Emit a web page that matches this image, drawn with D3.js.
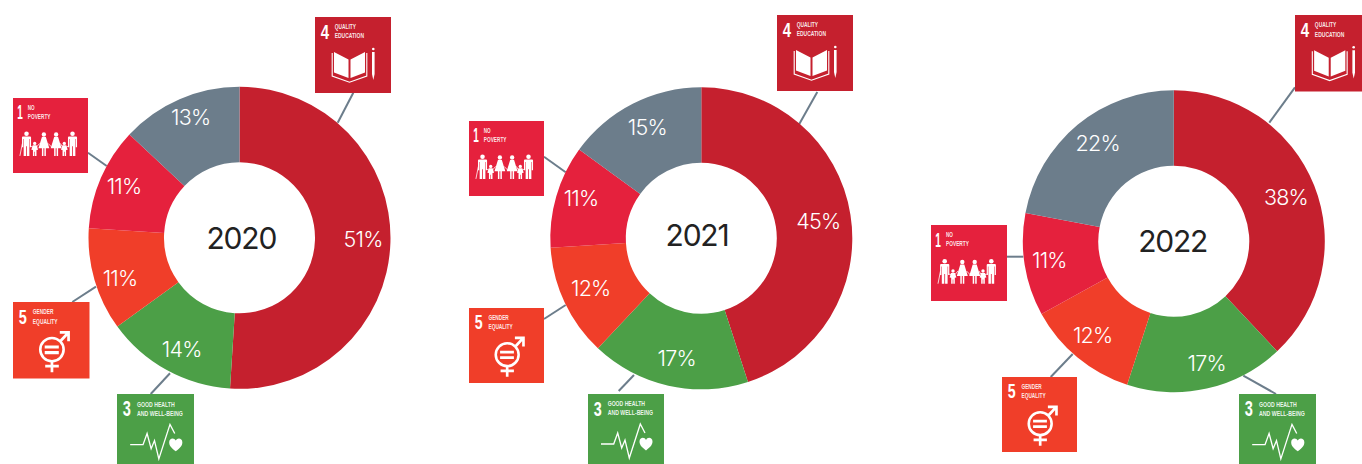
<!DOCTYPE html>
<html>
<head>
<meta charset="utf-8">
<style>
  html, body { margin: 0; padding: 0; background: #fff; overflow: hidden; }
  svg { display: block; }
  text { font-family: Inter, "Liberation Sans", sans-serif; }
  .tile-text { font-family: "Liberation Sans", sans-serif; fill: #fff; }
</style>
<script src="https://cdn.jsdelivr.net/npm/d3@7"></script>
</head>
<body>
<script>
// Share of spending by Sustainable Development Goal, one ring per year.
const years = ["2020", "2021", "2022"];
const goals = ["SDG 4", "SDG 3", "SDG 5", "SDG 1", "Other"];
const share2020 = [51, 14, 11, 11, 13];
const share2021 = [45, 17, 12, 11, 15];
const share2022 = [38, 17, 12, 11, 22];
const sharesByYear = [share2020, share2021, share2022];
const goalColors = ["#C5202E", "#4C9F47", "#F03E29", "#E5213D", "#6C7D8B"];

// Goal badge captions: [number, line 1, line 2]
const badgeCaptions = {
  "SDG 4": ["4", "QUALITY", "EDUCATION"],
  "SDG 3": ["3", "GOOD HEALTH", "AND WELL-BEING"],
  "SDG 5": ["5", "GENDER", "EQUALITY"],
  "SDG 1": ["1", "NO", "POVERTY"]
};
const captionMetrics = {
  "SDG 4": { numX: 5.7, numW: 8.3, textX: 19.7, w1: 21.3, w2: 29.3 },
  "SDG 3": { numX: 5.7, numW: 8, textX: 19.7, w1: 37.3, w2: 45.3 },
  "SDG 5": { numX: 5.7, numW: 8, textX: 19.7, w1: 20.6, w2: 24.6 },
  "SDG 1": { numX: 4.3, numW: 5.6, textX: 15, w1: 7, w2: 23 }
};

// Page layout for each ring: centre, year label anchor, label nudges per slice,
// and per-goal badge box and leader line.
const rings = [
  { cx: 239.5, cy: 237.8, tx: 241.3, ty: 237.7,
    nudge: [[-.4, -3], [1.9, 2.8], [-.4, 5.9], [-1.7, -2.6], [.4, -6.7]],
    badges: {
    "SDG 4": { x: 315, y: 17, size: 76, lead: [353.3, 92.7, 337.7, 122.7] },
    "SDG 1": { x: 13, y: 98, size: 75, lead: [88, 152.7, 106.7, 166] },
    "SDG 5": { x: 13, y: 302, size: 76.5, lead: [72.3, 302, 96, 286.7] },
    "SDG 3": { x: 117, y: 394, size: 77, lead: [150.7, 394, 170, 373.3] } } },
  { cx: 701.3, cy: 238.3, tx: 697, ty: 235,
    nudge: [[-5.5, 1.8], [2.4, -1], [1.6, -2.8], [-1.2, -5.4], [2.3, -1.1]],
    badges: {
    "SDG 4": { x: 777, y: 15, size: 76, lead: [817.3, 92, 799.3, 124] },
    "SDG 1": { x: 469, y: 121, size: 75, lead: [544, 156.7, 565.7, 172.3] },
    "SDG 5": { x: 469, y: 308, size: 75, lead: [544, 319, 565.7, 305] },
    "SDG 3": { x: 588, y: 394, size: 76, lead: [618.7, 391, 634, 375] } } },
  { cx: 1173.8, cy: 241.2, tx: 1172.7, ty: 240.7,
    nudge: [[-3.1, 1.1], [5.9, 1.1], [-2.1, -1.4], [-2, -.6], [2.9, -2.4]],
    badges: {
    "SDG 4": { x: 1295, y: 15, size: 76.5, lead: [1295, 87.3, 1269.3, 122.7] },
    "SDG 1": { x: 931, y: 225, size: 76, lead: [1007, 256.7, 1023.3, 256.7] },
    "SDG 5": { x: 1002, y: 377, size: 75, lead: [1050.7, 377, 1072.7, 354] },
    "SDG 3": { x: 1239, y: 394, size: 77, lead: [1243.3, 375.7, 1276, 394] } } }
];

const outerRadius = 151, innerRadius = 75.5, labelRadius = 124;

const svg = d3.select("body").append("svg").attr("width", 1362).attr("height", 464);
const color = d3.scaleOrdinal().domain(goals).range(goalColors);
const pie = d3.pie().value(d => d.value).sort(null);
const arc = d3.arc().innerRadius(innerRadius).outerRadius(outerRadius);
const labelArc = d3.arc().innerRadius(labelRadius).outerRadius(labelRadius);

// White pictograms, drawn in a 76-unit square badge.
const icons = {
  "SDG 4"(g) {
    g.append("path").attr("fill", "#fff")
      .attr("d", "M19 35L33.5 42.5V61L19 55.5ZM50 35L35.5 42.5V61L50 55.5Z");
    g.append("path").attr("fill", "none").attr("stroke", "#fff").attr("stroke-width", 1.1)
      .attr("d", "M17.2 36V59L34.5 65.2L51.8 59V36");
    g.append("circle").attr("cx", 58.3).attr("cy", 32).attr("r", 1.3).attr("fill", "#fff");
    g.append("path").attr("fill", "#fff").attr("d", "M57 35H59.6V57L58.3 63L57 57Z");
  },
  "SDG 1"(g) {
    const man = cx => `M${cx - 4.6} 40Q${cx - 4.6} 39 ${cx - 3.6} 39H${cx + 3.6}Q${cx + 4.6} 39 ${cx + 4.6} 40V50H${cx + 3.4}V41.5H${cx + 2.9}V58.7H${cx + .4}V49H${cx - .4}V58.7H${cx - 2.9}V41.5H${cx - 3.4}V50H${cx - 4.6}Z`;
    const woman = cx => `M${cx - 2} 39.5H${cx + 2}L${cx + 5.5} 51H${cx + 2}V58.7H${cx + .5}V51H${cx - .5}V58.7H${cx - 2}V51H${cx - 5.5}Z`;
    const child = cx => `M${cx - 2} 48H${cx + 2}L${cx + 3.4} 52.5L${cx + 1.8} 52.8V58.7H${cx + .3}V54.5H${cx - .3}V58.7H${cx - 1.8}V52.8L${cx - 3.4} 52.5Z`;
    [13.7, 60.3].forEach(cx => {
      g.append("circle").attr("cx", cx).attr("cy", 36.3).attr("r", 2.3).attr("fill", "#fff");
      g.append("path").attr("fill", "#fff").attr("d", man(cx));
    });
    [31.3, 43.7].forEach(cx => {
      g.append("circle").attr("cx", cx).attr("cy", 37).attr("r", 2.2).attr("fill", "#fff");
      g.append("path").attr("fill", "#fff").attr("d", woman(cx));
    });
    [22, 52].forEach(cx => {
      g.append("circle").attr("cx", cx).attr("cy", 46).attr("r", 1.7).attr("fill", "#fff");
      g.append("path").attr("fill", "#fff").attr("d", child(cx));
    });
    g.append("path").attr("fill", "none").attr("stroke", "#fff").attr("stroke-width", .8)
      .attr("d", "M9.5 46L7 58.7M17.5 49L20 49.5M24 49.5L27 46M35.5 46L39.5 50M48 46L50 49.5M54 49.5L56.5 49");
  },
  "SDG 5"(g) {
    g.append("circle").attr("cx", 38.7).attr("cy", 47.3).attr("r", 11.6)
      .attr("fill", "none").attr("stroke", "#fff").attr("stroke-width", 2.6);
    g.append("path").attr("fill", "#fff")
      .attr("d", "M31.5 43.2H45.5V46.2H31.5ZM31.5 48.8H45.5V51.8H31.5Z");
    g.append("path").attr("fill", "none").attr("stroke", "#fff").attr("stroke-width", 2.7)
      .attr("d", "M38.7 58.5V69.7M32 63.7H45.5M47 39L54.6 30.8M46.5 30.2H55.2V39");
  },
  "SDG 3"(g) {
    g.append("path").attr("fill", "none").attr("stroke", "#fff").attr("stroke-width", 1.3)
      .attr("d", "M13 50H25.7L29.7 39L33.7 54L37 46L41.3 64L52.3 30L57 39");
    g.append("path").attr("fill", "#fff")
      .attr("d", "M58 56.5C53 52.5 51.5 50.5 51.5 47.5C51.5 43.5 56.5 42.5 58 46C59.5 42.5 64.5 43.5 64.5 47.5C64.5 50.5 63 52.5 58 56.5Z");
  }
};

rings.forEach((ring, i) => {
  const rows = goals.map((goal, k) => ({ goal, value: sharesByYear[i][k] }));
  const root = svg.append("g").attr("class", "ring");

  // Leader lines sit behind the ring and the badges.
  root.selectAll("line.leader").data(Object.values(ring.badges)).join("line")
    .attr("class", "leader")
    .attr("x1", d => d.lead[0]).attr("y1", d => d.lead[1])
    .attr("x2", d => d.lead[2]).attr("y2", d => d.lead[3])
    .attr("stroke", "#6C7D8B").attr("stroke-width", 2);

  const donut = root.append("g").attr("transform", `translate(${ring.cx},${ring.cy})`);
  const slices = pie(rows);
  donut.selectAll("path").data(slices).join("path")
    .attr("d", arc).attr("fill", d => color(d.data.goal));
  donut.selectAll("text").data(slices).join("text")
    .attr("transform", (d, k) => {
      const [x, y] = labelArc.centroid(d);
      return `translate(${x + ring.nudge[k][0]},${y + ring.nudge[k][1]})`;
    })
    .attr("text-anchor", "middle").attr("dominant-baseline", "central")
    .attr("fill", "#fff").attr("font-size", 21.5).attr("font-weight", 350).attr("letter-spacing", -0.8)
    .text(d => `${d.data.value}%`);

  root.append("text").attr("x", ring.tx).attr("y", ring.ty)
    .attr("text-anchor", "middle").attr("dominant-baseline", "central")
    .attr("fill", "#222").attr("font-size", 30).attr("letter-spacing", -1.2)
    .text(years[i]);

  // Goal badges with number, caption and pictogram.
  Object.entries(ring.badges).forEach(([goal, box]) => {
    const g = root.append("g").attr("transform", `translate(${box.x},${box.y}) scale(${box.size / 76})`);
    g.append("rect").attr("width", 76).attr("height", 76).attr("fill", color(goal));
    const [num, line1, line2] = badgeCaptions[goal];
    const m = captionMetrics[goal];
    g.append("text").attr("class", "tile-text").attr("x", m.numX).attr("y", 21.5)
      .attr("font-size", 21).attr("font-weight", 700)
      .attr("textLength", m.numW).attr("lengthAdjust", "spacingAndGlyphs").text(num);
    [[line1, m.w1, 12.4], [line2, m.w2, 21.4]].forEach(([t, w, y]) => {
      g.append("text").attr("class", "tile-text").attr("x", m.textX).attr("y", y)
        .attr("font-size", 7.4).attr("font-weight", 700).attr("fill-opacity", 0.9)
        .attr("textLength", w).attr("lengthAdjust", "spacingAndGlyphs").text(t);
    });
    icons[goal](g);
  });
});
</script>
</body>
</html>
